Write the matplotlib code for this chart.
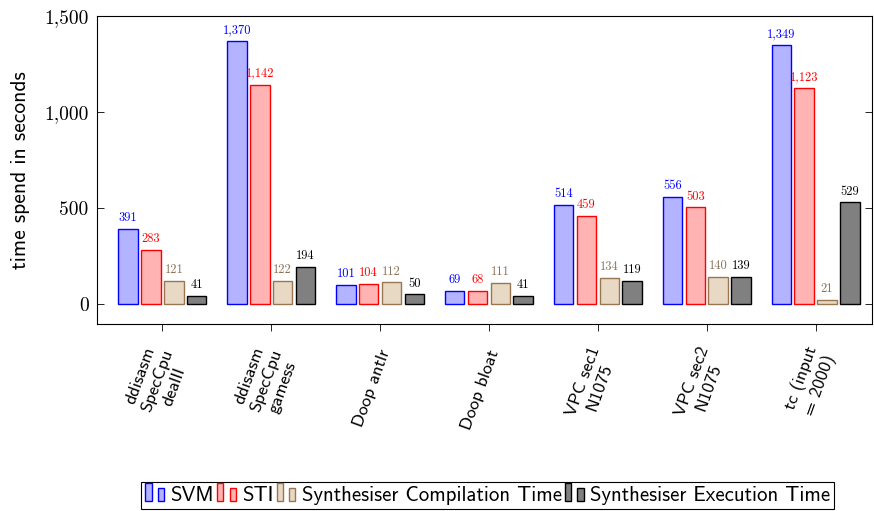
import matplotlib
matplotlib.use("Agg")
import matplotlib.pyplot as plt
import matplotlib.transforms as mtransforms
import numpy as np
from matplotlib.patches import Rectangle
from matplotlib.legend_handler import HandlerBase

plt.rcParams["axes.unicode_minus"] = False

categories = [
    "ddisasm\nSpecCpu\ndealII",
    "ddisasm\nSpecCpu\ngamess",
    "Doop antlr",
    "Doop bloat",
    "VPC sec1\nN1075",
    "VPC sec2\nN1075",
    "tc (input\n= 2000)",
]
series_names = ["SVM", "STI", "Synthesiser Compilation Time", "Synthesiser Execution Time"]
svm = [391, 1370, 101, 69, 514, 556, 1349]
sti = [283, 1142, 104, 68, 459, 503, 1123]
compile_time = [121, 122, 112, 111, 134, 140, 21]
exec_time = [41, 194, 50, 41, 119, 139, 529]
y_ticks = [0, 500, 1000, 1500]

brown = (0.6, 0.46, 0.32)
faces = [(0.7, 0.7, 1.0), (1.0, 0.7, 0.7), (0.91, 0.85, 0.77), (0.5, 0.5, 0.5)]
edges = ["blue", "red", brown, "black"]
label_colors = ["blue", "red", (0.55, 0.45, 0.35), "black"]


class TwoBarHandler(HandlerBase):
    # pgfplots-style ybar legend image: two small bars side by side
    def create_artists(self, legend, orig, xd, yd, width, height, fontsize, trans):
        bw = width * 0.3
        r1 = Rectangle((xd, yd), bw, height * 1.2, facecolor=orig.get_facecolor(),
                       edgecolor=orig.get_edgecolor(), linewidth=1.0, transform=trans)
        r2 = Rectangle((xd + width * 0.6, yd), bw, height * 0.85, facecolor=orig.get_facecolor(),
                       edgecolor=orig.get_edgecolor(), linewidth=1.0, transform=trans)
        return [r1, r2]


fig = plt.figure(figsize=(8.74, 5.11), dpi=100)
ax = fig.add_axes([0.111, 0.366, 0.887, 0.603])

x = np.arange(len(categories))
step = 0.21
width = 0.18
data = [svm, sti, compile_time, exec_time]
for i, vals in enumerate(data):
    pos = x + (i - 1.5) * step
    bars = ax.bar(pos, vals, width, facecolor=faces[i], edgecolor=edges[i], linewidth=1.0)
    for b, v in zip(bars, vals):
        ax.annotate(f"{v:,}", (b.get_x() + b.get_width() / 2, v), xytext=(0, 3.5),
                    textcoords="offset points", ha="center", va="bottom",
                    fontsize=9, family="cmr10", color=label_colors[i])

ax.set_xlim(-0.6, 6.52)
ax.set_ylim(-104, 1500)
ax.set_yticks(y_ticks)
ax.set_yticklabels([f"{t:,}" for t in y_ticks], family="cmr10", fontsize=14)
ax.set_xticks(x)
ax.set_xticklabels(categories, rotation=70, ha="right", va="center", rotation_mode="anchor",
                   family="cmss10", fontsize=13, multialignment="center", linespacing=1.2)
ax.tick_params(axis="y", direction="in", length=5, width=0.6, right=True, pad=6)
ax.tick_params(axis="x", direction="out", length=5, width=0.6, pad=14)
shift = mtransforms.ScaledTranslation(6 / 100, 0, fig.dpi_scale_trans)
for lbl in ax.get_xticklabels():
    lbl.set_transform(lbl.get_transform() + shift)
for s in ax.spines.values():
    s.set_linewidth(0.8)
ax.set_ylabel("time spend in seconds", family="cmss10", fontsize=15.5, labelpad=10)

handles = [Rectangle((0, 0), 1, 1, facecolor=faces[i], edgecolor=edges[i]) for i in range(4)]
leg = fig.legend(handles, series_names, loc="lower center", bbox_to_anchor=(0.558, 0.0), ncol=4,
                 handler_map={Rectangle: TwoBarHandler()},
                 handlelength=1.0, handleheight=0.7, handletextpad=0.2, columnspacing=0.15,
                 borderpad=0.2, borderaxespad=0.1, fancybox=False, edgecolor="black", framealpha=1,
                 prop={"family": "cmss10", "size": 15})
leg.get_frame().set_linewidth(0.8)

fig.savefig("out.png", dpi=100)
